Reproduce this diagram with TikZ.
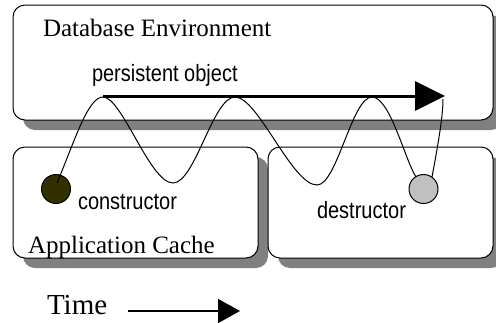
\documentclass[tikz,border=0pt]{standalone}
\usepackage{fontspec}
\usepackage{graphicx}
\setmainfont{Liberation Serif}
\newfontfamily\sansf{Liberation Sans}
\usetikzlibrary{arrows.meta,shadows}
\begin{document}
\begin{tikzpicture}[x=1pt,y=-1pt,
  box/.style={draw=black, line width=1pt, fill=white, rounded corners=12pt, inner sep=0pt, outer sep=0pt,
    drop shadow={shadow xshift=10pt, shadow yshift=-10pt, fill=black!50, opacity=1}},
  ball/.style={draw=black, line width=1pt, circle, minimum size=29pt, inner sep=0pt},
  lbl/.style={anchor=base west, inner sep=0pt, outer sep=0pt},
  wave/.style={draw=black, line width=1pt},
  serif25/.style={font=\fontsize{25}{30}\selectfont},
  sans20/.style={font=\sansf\fontsize{20}{24}\selectfont}
]
\useasboundingbox (0,0) rectangle (496,322);
% boxes
\node[box, minimum width=480pt, minimum height=115pt] (db) at (253,62.5) {};
\node[box, minimum width=245pt, minimum height=111pt] (app) at (135.5,202.5) {};
\node[box, minimum width=225pt, minimum height=111pt] (rbox) at (380.5,202.5) {};
% labels
\node[lbl, serif25] (dbt) at (43,36) {Database Environment};
\node[lbl, sans20] (pot) at (92,81) {\scalebox{1}[1.18]{persistent object}};
\node[lbl, sans20] (cont) at (78,209) {\scalebox{1}[1.18]{constructor}};
\node[lbl, sans20] (dest) at (317,218) {\scalebox{1}[1.18]{destructor}};
\node[lbl, serif25] (appt) at (28,253) {Application Cache};
\node[lbl, font=\fontsize{29}{34}\selectfont] (time) at (47,314) {Time};
% balls
\node[ball, fill={rgb,255:red,51;green,48;blue,0}] (con) at (56,189) {};
\node[ball, fill={rgb,255:red,192;green,192;blue,192}] (des) at (423.5,189) {};
% coordinates
\coordinate (c0) at (57,183);
\coordinate (p1) at (103,97);
\coordinate (t1) at (173,183);
\coordinate (p2) at (235,97);
\coordinate (t2) at (317,185);
\coordinate (p3) at (372,97);
\coordinate (d0) at (416,177);
\coordinate (d1) at (432,177);
\coordinate (a0) at (103,96);
\coordinate (a1) at (445,96);
\coordinate (tip) at (443,99);
\coordinate (ts) at (128,311);
\coordinate (te) at (240,311);
% persistent object arrow
\draw[line width=3pt, -{Triangle[length=30pt,width=29pt]}] (a0) -- (a1);
% wave
\draw[wave] (c0) .. controls (75,140) and (88,97) .. (p1)
  .. controls (122,97) and (150,183) .. (t1)
  .. controls (195,183) and (213,97) .. (p2)
  .. controls (258,97) and (292,185) .. (t2)
  .. controls (337,185) and (352,97) .. (p3)
  .. controls (390,97) and (405,160) .. (d0);
\draw[wave] (d1) .. controls (437,150) and (443,118) .. (tip);
% time arrow
\draw[line width=1.5pt, -{Triangle[length=22pt,width=24pt]}] (ts) -- (te);
\end{tikzpicture}
\end{document}
